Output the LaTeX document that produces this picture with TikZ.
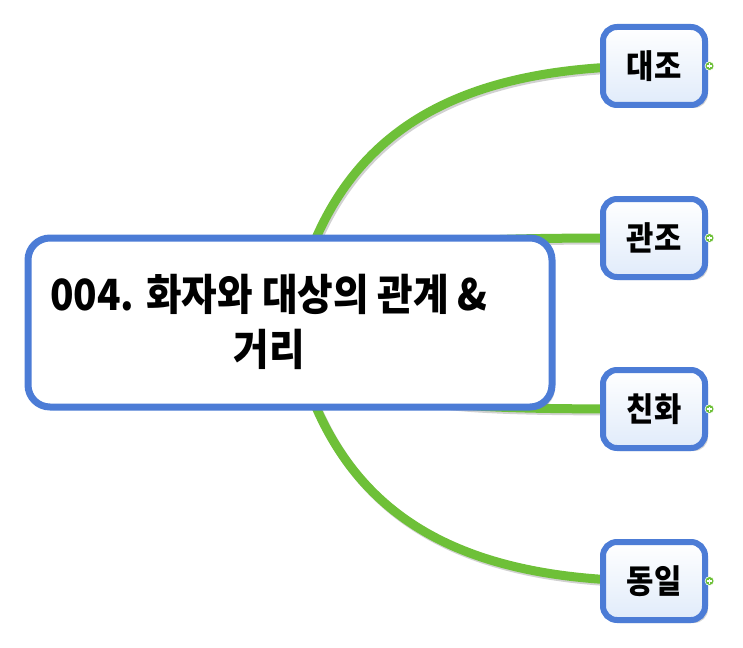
\documentclass[tikz,border=0pt]{standalone}
\usepackage{fontspec}
\newfontfamily\kr{Noto Sans CJK KR}[FakeStretch=0.9]
\usetikzlibrary{shadows,backgrounds}
\definecolor{mapblue}{RGB}{76,124,214}
\definecolor{mapgreen}{RGB}{110,192,56}
\definecolor{boxfill}{RGB}{224,235,250}
\tikzset{
  topic/.style={draw=mapblue, line width=7pt, rounded corners=22pt, fill=white,
    minimum width=524pt, minimum height=169pt,
    drop shadow={shadow xshift=3pt, shadow yshift=-3pt, opacity=0.35}},
  title/.style={align=center, inner sep=0pt, font=\kr\bfseries\fontsize{43}{55}\selectfont},
  sub/.style={draw=mapblue, line width=6pt, rounded corners=14pt,
    top color=white, bottom color=boxfill,
    minimum width=102pt, minimum height=78pt, inner sep=0pt,
    font=\kr\bfseries\fontsize{33}{38}\selectfont,
    drop shadow={shadow xshift=3pt, shadow yshift=-3pt, opacity=0.35}},
  branch/.style={mapgreen, line width=9pt,
    preaction={draw=black!18, line width=9pt, transform canvas={shift={(1.5pt,-2pt)}}}},
  plusdot/.style={circle, fill=mapgreen, draw=white, line width=0.6pt,
    minimum size=9pt, inner sep=0pt,
    path picture={
      \draw[white, line width=1.5pt]
        ([xshift=-2.5pt]path picture bounding box.center) -- ++(5pt,0pt)
        ([yshift=-2.5pt]path picture bounding box.center) -- ++(0pt,5pt);}}
}
\begin{document}
\begin{tikzpicture}[x=1pt, y=-1pt]
  \useasboundingbox (0,0) rectangle (743,647);
  % central topic
  \node[topic] (main) at (290,322.5) {};
  \node[title] (ttl) at (269,322) {004. 화자와 대상의 관계 \&\\거리};
  % sub topics
  \node[sub] (dz) at (654,66) {대조};
  \node[sub] (gj) at (654,238) {관조};
  \node[sub] (ch) at (654,409) {친화};
  \node[sub] (di) at (654,581) {동일};
  \foreach \n in {dz,gj,ch,di}
    \node[plusdot] (p\n) at ([xshift=1.5pt]\n.east) {};
  % branches
  \begin{pgfonlayer}{background}
    \draw[branch] (main.center) .. controls +(35,-172) and +(-224,0) .. (dz.center);
    \draw[branch] (main.center) .. controls +(80,-84) and +(-250,0) .. (gj.center);
    \draw[branch] (main.center) .. controls +(80,84) and +(-250,0) .. (ch.center);
    \draw[branch] (main.center) .. controls +(35,172) and +(-224,0) .. (di.center);
  \end{pgfonlayer}
\end{tikzpicture}
\end{document}
